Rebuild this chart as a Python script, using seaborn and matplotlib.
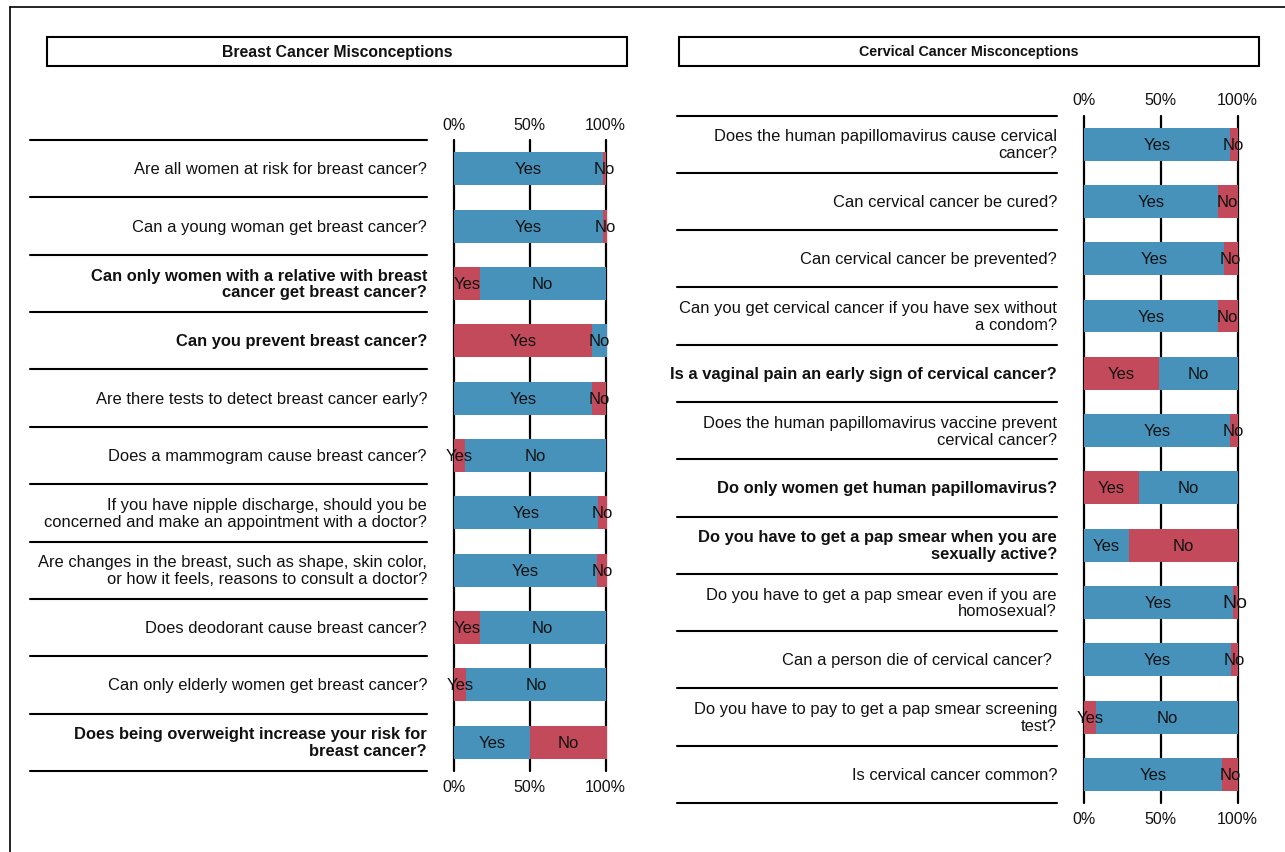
import matplotlib
matplotlib.use("Agg")
import matplotlib.pyplot as plt
import seaborn as sns
import pandas as pd
from matplotlib.lines import Line2D
from matplotlib.patches import Rectangle
from matplotlib.transforms import blended_transform_factory
from matplotlib import font_manager

# ---------------- data ----------------
breast_questions = [
    "Are all women at risk for breast cancer?",
    "Can a young woman get breast cancer?",
    "Can only women with a relative with breast\ncancer get breast cancer?",
    "Can you prevent breast cancer?",
    "Are there tests to detect breast cancer early?",
    "Does a mammogram cause breast cancer?",
    "If you have nipple discharge, should you be\nconcerned and make an appointment with a doctor?",
    "Are changes in the breast, such as shape, skin color,\nor how it feels, reasons to consult a doctor?",
    "Does deodorant cause breast cancer?",
    "Can only elderly women get breast cancer?",
    "Does being overweight increase your risk for\nbreast cancer?",
]
breast_yes = [98, 98, 17, 91, 91, 7, 95, 94, 17, 8, 50]
breast_no = [2, 3, 83, 10, 9, 93, 6, 7, 83, 92, 51]
breast_correct = ["Yes", "Yes", "No", "No", "Yes", "No", "Yes", "Yes", "No", "No", "Yes"]
breast_bold = [False, False, True, True, False, False, False, False, False, False, True]

cervical_questions = [
    "Does the human papillomavirus cause cervical\ncancer?",
    "Can cervical cancer be cured?",
    "Can cervical cancer be prevented?",
    "Can you get cervical cancer if you have sex without\na condom?",
    "Is a vaginal pain an early sign of cervical cancer?",
    "Does the human papillomavirus vaccine prevent\ncervical cancer?",
    "Do only women get human papillomavirus?",
    "Do you have to get a pap smear when you are\nsexually active?",
    "Do you have to get a pap smear even if you are\nhomosexual?",
    "Can a person die of cervical cancer? ",
    "Do you have to pay to get a pap smear screening\ntest?",
    "Is cervical cancer common?",
]
cervical_yes = [95, 87, 91, 87, 49, 95, 36, 29, 97, 96, 8, 90]
cervical_no = [5, 13, 9, 13, 51, 5, 64, 71, 3, 4, 92, 10]
cervical_correct = ["Yes", "Yes", "Yes", "Yes", "No", "Yes", "No", "Yes", "Yes", "Yes", "No", "Yes"]
cervical_bold = [False, False, False, False, True, False, True, True, False, False, False, False]

tick_values = [0, 50, 100]
tick_labels = ["0%", "50%", "100%"]
panel_titles = ["Breast Cancer Misconceptions", "Cervical Cancer Misconceptions"]

BLUE = "#4692BB"
RED = "#C24A5A"

# ---------------- figure ----------------
sns.set_theme(style="white")
plt.rcParams["font.family"] = ["Liberation Sans", "DejaVu Sans"]

try:
    font_manager.findfont("Liberation Sans Narrow", fallback_to_default=False)
    narrow_family = ["Liberation Sans Narrow", "Liberation Sans"]
    narrow_size = 11.3
except Exception:
    narrow_family = ["Liberation Sans", "DejaVu Sans"]
    narrow_size = 10.3

W, H = 1285, 853
fig = plt.figure(figsize=(W / 100, H / 100), dpi=100)


def fx(p):
    return p / W


def fy(p):
    return 1 - p / H


# outer frame (top and left)
fig.add_artist(Line2D([fx(9.5), 1.0], [fy(7.5), fy(7.5)], color="black", lw=1.2, transform=fig.transFigure))
fig.add_artist(Line2D([fx(9.5), fx(9.5)], [fy(7.5), 0.0], color="black", lw=1.2, transform=fig.transFigure))

panels = [
    dict(q=breast_questions, yes=breast_yes, no=breast_no, corr=breast_correct, bold=breast_bold,
         ax=(454, 141, 605.7, 772), text_x=427, sep=(30, 427), box=(47, 37.5, 627, 67),
         title=panel_titles[0], title_family=["Liberation Sans", "DejaVu Sans"], title_size=11.3),
    dict(q=cervical_questions, yes=cervical_yes, no=cervical_no, corr=cervical_correct, bold=cervical_bold,
         ax=(1084, 116.5, 1237.5, 804), text_x=1057, sep=(677, 1057), box=(679, 37.5, 1259, 67),
         title=panel_titles[1], title_family=narrow_family, title_size=narrow_size),
]

for pi, P in enumerate(panels):
    x0, y0, x1, y1 = P["ax"]
    ax = fig.add_axes([fx(x0), fy(y1), (x1 - x0) / W, (y1 - y0) / H])
    n = len(P["q"])
    df = pd.DataFrame({
        "question": P["q"],
        "yes": P["yes"],
        "no": P["no"],
    })
    df["total"] = df["yes"] + df["no"]
    yes_cols = [BLUE if c == "Yes" else RED for c in P["corr"]]
    no_cols = [RED if c == "Yes" else BLUE for c in P["corr"]]

    sns.barplot(data=df, x="total", y="question", hue="question", palette=no_cols, saturation=1,
                orient="h", width=0.575, linewidth=0, legend=False, ax=ax, zorder=2)
    sns.barplot(data=df, x="yes", y="question", hue="question", palette=yes_cols, saturation=1,
                orient="h", width=0.575, linewidth=0, legend=False, ax=ax, zorder=3)
    for patch in ax.patches:
        patch.set_clip_on(False)

    for v in tick_values:
        ax.axvline(v, color="black", lw=1.6, zorder=1, clip_on=False)

    ax.set_xlim(0, 100)
    ax.set_ylim(n - 0.5, -0.5)
    for s in ax.spines.values():
        s.set_visible(False)
    ax.set_xticks(tick_values)
    ax.set_xticklabels(tick_labels)
    ax.tick_params(axis="x", top=False, bottom=False, labeltop=True, labelbottom=True,
                   length=0, pad=6, labelsize=11.5, labelcolor="#111111")
    ax.set_yticks([])
    ax.set_xlabel("")
    ax.set_ylabel("")

    # segment labels
    for i in range(n):
        yv, nv = P["yes"][i], P["no"][i]
        ax.text(yv / 2, i, "Yes", ha="center", va="center", fontsize=12, color="#111111", zorder=5)
        nsize = 14 if (pi == 1 and i == 8) else 12
        ax.text(yv + nv / 2, i, "No", ha="center", va="center", fontsize=nsize, color="#111111", zorder=5)

    # question texts and separators
    tr = blended_transform_factory(fig.transFigure, ax.transData)
    for i, q in enumerate(P["q"]):
        ax.text(fx(P["text_x"]), i, q, transform=tr, ha="right", va="center", fontsize=11.9,
                fontweight="bold" if P["bold"][i] else "normal", color="#111111",
                multialignment="right", linespacing=1.15, clip_on=False)
    for k in range(n + 1):
        ax.add_artist(Line2D([fx(P["sep"][0]), fx(P["sep"][1])], [k - 0.5, k - 0.5],
                             transform=tr, color="black", lw=1.5, clip_on=False))

    # title box
    bx0, by0, bx1, by1 = P["box"]
    fig.add_artist(Rectangle((fx(bx0), fy(by1)), (bx1 - bx0) / W, (by1 - by0) / H,
                             transform=fig.transFigure, fill=False, edgecolor="black", lw=1.5))
    fig.text(fx((bx0 + bx1) / 2), fy((by0 + by1) / 2), P["title"], ha="center", va="center",
             fontsize=P["title_size"], fontweight="bold", family=P["title_family"], color="#111111")

fig.savefig("out.png", dpi=100)
